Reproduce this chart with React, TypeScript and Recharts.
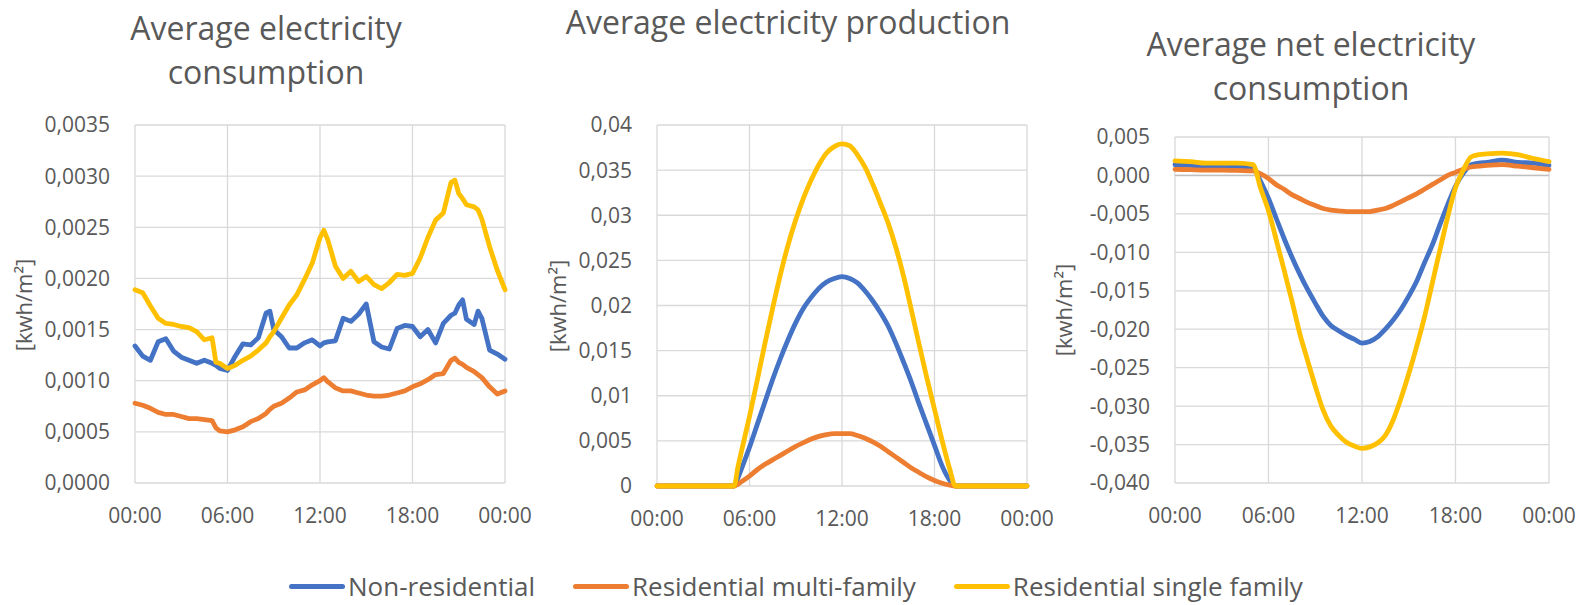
import React from "react";
import { CartesianGrid, Line, LineChart, ReferenceLine, XAxis, YAxis } from "recharts";

// hour of day for each sample (quarter hours kept only where the profile has a sharp step)
const consumptionHours = [
  0, 0.5, 1, 1.5, 2, 2.5, 3, 3.5, 4, 4.5, 5, 5.25, 5.5, 6, 6.5, 7, 7.5, 8, 8.5, 8.75,
  9, 9.5, 10, 10.5, 11, 11.5, 12, 12.25, 12.5, 13, 13.5, 14, 14.5, 15, 15.5, 16, 16.5,
  17, 17.5, 18, 18.5, 19, 19.5, 20, 20.5, 20.75, 21, 21.25, 21.5, 22, 22.25, 22.5, 23,
  23.5, 24,
];
const consumptionNonRes = [
  0.00134, 0.00124, 0.0012, 0.00138, 0.00141, 0.00129, 0.00123, 0.0012, 0.00117, 0.0012,
  0.00117, 0.00115, 0.00112, 0.0011, 0.00124, 0.00136, 0.00135, 0.00142, 0.00166, 0.00168,
  0.0015, 0.00143, 0.00132, 0.00132, 0.00137, 0.0014, 0.00134, 0.00137, 0.00138, 0.00139,
  0.00161, 0.00158, 0.00165, 0.00175, 0.00138, 0.00133, 0.00131, 0.00151, 0.00154, 0.00153,
  0.00143, 0.0015, 0.00137, 0.00156, 0.00164, 0.00166, 0.00174, 0.00179, 0.0016, 0.00155,
  0.00168, 0.00161, 0.0013, 0.00126, 0.00121,
];
const consumptionMulti = [
  0.00078, 0.00076, 0.00073, 0.00069, 0.00067, 0.00067, 0.00065, 0.00063, 0.00063, 0.00062,
  0.00061, 0.00054, 0.00051, 0.0005, 0.00052, 0.00055, 0.0006, 0.00063, 0.00068, 0.00072,
  0.00075, 0.00078, 0.00083, 0.00089, 0.00091, 0.00096, 0.001, 0.00103, 0.00099, 0.00093,
  0.0009, 0.0009, 0.00088, 0.00086, 0.00085, 0.00085, 0.00086, 0.00088, 0.0009, 0.00094,
  0.00097, 0.00101, 0.00106, 0.00107, 0.0012, 0.00122, 0.00118, 0.00116, 0.00113, 0.00109,
  0.00106, 0.00103, 0.00094, 0.00087, 0.0009,
];
const consumptionSingle = [
  0.00189, 0.00186, 0.00173, 0.00161, 0.00156, 0.00155, 0.00153, 0.00152, 0.00148, 0.0014,
  0.00142, 0.00118, 0.00117, 0.00112, 0.00115, 0.0012, 0.00124, 0.0013, 0.00137, 0.00143,
  0.00148, 0.00161, 0.00174, 0.00184, 0.00199, 0.00215, 0.0024, 0.00247, 0.00238, 0.00212,
  0.002, 0.00207, 0.00197, 0.00202, 0.00194, 0.0019, 0.00196, 0.00204, 0.00203, 0.00205,
  0.0022, 0.0024, 0.00257, 0.00264, 0.00294, 0.00296, 0.00283, 0.00278, 0.00272, 0.0027,
  0.00267, 0.00258, 0.00231, 0.00208, 0.00189,
];

const productionHours = [
  0, 1, 2, 3, 4, 5, 5.25, 5.5, 6, 6.5, 7, 7.5, 8, 8.5, 9, 9.5, 10, 10.5, 11, 11.5, 12,
  12.5, 13, 13.5, 14, 14.5, 15, 15.5, 16, 16.5, 17, 17.5, 18, 18.5, 19, 19.35, 20, 21, 22,
  23, 24,
];
const productionNonRes = [
  0, 0, 0, 0, 0, 0, 0.0009, 0.002, 0.0043, 0.0068, 0.0093, 0.0118, 0.0141, 0.0162, 0.0181,
  0.0197, 0.0209, 0.0219, 0.0226, 0.023, 0.0232, 0.023, 0.0225, 0.0216, 0.0205, 0.0192,
  0.0177, 0.0158, 0.0137, 0.0115, 0.0091, 0.0068, 0.0045, 0.0022, 0.0006, 0, 0, 0, 0, 0, 0,
];
const productionMulti = [
  0, 0, 0, 0, 0, 0, 0.0002, 0.0005, 0.0011, 0.0018, 0.0024, 0.0029, 0.0034, 0.0039, 0.0044,
  0.0048, 0.0052, 0.0055, 0.0057, 0.0058, 0.0058, 0.0058, 0.0056, 0.0053, 0.0049, 0.0044,
  0.0038, 0.0032, 0.0026, 0.002, 0.0015, 0.001, 0.0006, 0.0003, 0.0001, 0, 0, 0, 0, 0, 0,
];
const productionSingle = [
  0, 0, 0, 0, 0, 0, 0.0021, 0.004, 0.0077, 0.0117, 0.0158, 0.0197, 0.0234, 0.0267, 0.0295,
  0.0319, 0.0339, 0.0356, 0.0369, 0.0376, 0.0379, 0.0377, 0.0367, 0.0353, 0.0334, 0.0313,
  0.0291, 0.0264, 0.0232, 0.0195, 0.0157, 0.012, 0.0085, 0.005, 0.0018, 0, 0, 0, 0, 0, 0,
];

const netHours = [
  0, 1, 2, 3, 4, 5, 5.5, 6, 6.5, 7, 7.5, 8, 8.5, 9, 9.5, 10, 10.5, 11, 11.5, 12, 12.5, 13,
  13.5, 14, 14.5, 15, 15.5, 16, 16.5, 17, 17.5, 18, 18.5, 19, 19.5, 20, 21, 22, 23, 24,
];
const netNonRes = [
  0.0014, 0.0013, 0.0012, 0.0012, 0.0011, 0.001, -0.0008, -0.003, -0.0056, -0.0082, -0.0106,
  -0.0128, -0.0148, -0.0166, -0.0183, -0.0195, -0.0202, -0.0208, -0.0213, -0.0218, -0.0216,
  -0.021, -0.02, -0.0188, -0.0174, -0.0157, -0.0138, -0.0114, -0.0091, -0.0064, -0.0038,
  -0.0014, 0.0003, 0.0014, 0.0016, 0.0017, 0.002, 0.0017, 0.0016, 0.0013,
];
const netMulti = [
  0.0008, 0.00075, 0.0007, 0.0007, 0.00065, 0.0006, 0.0002, -0.0004, -0.0012, -0.0018,
  -0.0025, -0.003, -0.0035, -0.0039, -0.0043, -0.0045, -0.0046, -0.0047, -0.0047, -0.0047,
  -0.0047, -0.0045, -0.0043, -0.0039, -0.0034, -0.0029, -0.0024, -0.0018, -0.0012, -0.0006,
  0, 0.0004, 0.0008, 0.0011, 0.0012, 0.0013, 0.0014, 0.0012, 0.001, 0.0008,
];
const netSingle = [
  0.0019, 0.0018, 0.0016, 0.0016, 0.0016, 0.0014, -0.0017, -0.0046, -0.0084, -0.0123,
  -0.0163, -0.0205, -0.024, -0.0274, -0.0305, -0.0326, -0.0338, -0.0347, -0.0352, -0.0355,
  -0.0353, -0.0348, -0.0338, -0.0318, -0.029, -0.0258, -0.0223, -0.0185, -0.0141, -0.0097,
  -0.0054, -0.0016, 0.0007, 0.0024, 0.0027, 0.0028, 0.0029, 0.0027, 0.0022, 0.0018,
];

const hourTicks = [0, 6, 12, 18, 24];
const consumptionTicks = [0, 0.0005, 0.001, 0.0015, 0.002, 0.0025, 0.003, 0.0035];
const productionTicks = [0, 0.005, 0.01, 0.015, 0.02, 0.025, 0.03, 0.035, 0.04];
const netTicks = [0.005, 0, -0.005, -0.01, -0.015, -0.02, -0.025, -0.03, -0.035, -0.04];

const seriesNames = ["Non-residential", "Residential multi-family", "Residential single family"];
const seriesColors = ["#4472C4", "#ED7D31", "#FFC000"];

const FONT = "'Open Sans', sans-serif";
const TEXT = "#595959";
const GRID = "#D9D9D9";

const comma = (s: string) => s.replace(".", ",");
const hourLabel = (h: number) => `${String(h % 24).padStart(2, "0")}:00`;

type Row = { h: number; a: number; b: number; c: number };

function rows(hours: number[], a: number[], b: number[], c: number[]): Row[] {
  return hours.map((h, i) => ({ h, a: a[i], b: b[i], c: c[i] }));
}

type PanelProps = {
  data: Row[];
  left: number;
  width: number;
  margin: { top: number; right: number; bottom: number; left: number };
  yWidth: number;
  domain: [number, number];
  ticks: number[];
  fmt: (v: number) => string;
  curve: "linear" | "monotone";
  zeroLine?: boolean;
};

function Panel(p: PanelProps) {
  const tick = { fill: TEXT, fontSize: 21, fontFamily: FONT };
  return (
    <div style={{ position: "absolute", left: p.left, top: 110 }}>
      <LineChart width={p.width} height={440} data={p.data} margin={p.margin}>
        <CartesianGrid stroke={GRID} strokeWidth={1.3} />
        <XAxis
          dataKey="h"
          type="number"
          domain={[0, 24]}
          ticks={hourTicks}
          tickFormatter={hourLabel}
          tick={tick}
          tickLine={false}
          axisLine={false}
          tickSize={0}
          tickMargin={25}
          height={40}
          interval={0}
        />
        <YAxis
          domain={p.domain}
          ticks={p.ticks}
          tickFormatter={p.fmt}
          tick={tick}
          tickLine={false}
          axisLine={false}
          tickSize={0}
          tickMargin={25}
          width={p.yWidth}
          interval={0}
        />
        {p.zeroLine && <ReferenceLine y={0} stroke="#BFBFBF" strokeWidth={1.6} />}
        {(["a", "b", "c"] as const).map((k, i) => (
          <Line
            key={k}
            type={p.curve}
            dataKey={k}
            stroke={seriesColors[i]}
            strokeWidth={4.8}
            strokeLinejoin="round"
            strokeLinecap="round"
            dot={false}
            activeDot={false}
            isAnimationActive={false}
          />
        ))}
      </LineChart>
    </div>
  );
}

function Title({ lines, center, top }: { lines: string[]; center: number; top: number }) {
  return (
    <div
      style={{
        position: "absolute",
        left: center - 260,
        width: 520,
        top,
        textAlign: "center",
        fontFamily: FONT,
        fontSize: 32,
        lineHeight: "44px",
        color: TEXT,
      }}
    >
      {lines.map((l) => (
        <div key={l}>{l}</div>
      ))}
    </div>
  );
}

function UnitLabel({ x, y }: { x: number; y: number }) {
  return (
    <div
      style={{
        position: "absolute",
        left: x,
        top: y,
        transform: "translate(-50%, -50%) rotate(-90deg)",
        whiteSpace: "nowrap",
        fontFamily: FONT,
        fontSize: 22,
        color: TEXT,
      }}
    >
      [kwh/m²]
    </div>
  );
}

export default function App() {
  return (
    <div
      style={{
        position: "absolute",
        left: 0,
        top: 0,
        width: 1592,
        height: 605,
        background: "#fff",
        overflow: "hidden",
        fontFamily: FONT,
      }}
    >
      <Title lines={["Average electricity", "consumption"]} center={266} top={6} />
      <Title lines={["Average electricity production"]} center={788} top={0} />
      <Title lines={["Average net electricity", "consumption"]} center={1311} top={22} />

      <Panel
        data={rows(consumptionHours, consumptionNonRes, consumptionMulti, consumptionSingle)}
        left={0}
        width={545}
        margin={{ top: 15, right: 40, bottom: 27, left: 0 }}
        yWidth={135}
        domain={[0, 0.0035]}
        ticks={consumptionTicks}
        fmt={(v) => comma(v.toFixed(4))}
        curve="linear"
      />
      <Panel
        data={rows(productionHours, productionNonRes, productionMulti, productionSingle)}
        left={530}
        width={530}
        margin={{ top: 15, right: 33, bottom: 24, left: 0 }}
        yWidth={127}
        domain={[0, 0.04]}
        ticks={productionTicks}
        fmt={(v) => comma(String(v))}
        curve="monotone"
      />
      <Panel
        data={rows(netHours, netNonRes, netMulti, netSingle)}
        left={1060}
        width={532}
        margin={{ top: 27, right: 43, bottom: 27, left: 0 }}
        yWidth={115}
        domain={[-0.04, 0.005]}
        ticks={netTicks}
        fmt={(v) => comma(v.toFixed(3))}
        curve="monotone"
        zeroLine
      />

      <UnitLabel x={23} y={305} />
      <UnitLabel x={557} y={306} />
      <UnitLabel x={1063} y={310} />

      <div
        style={{
          position: "absolute",
          left: 289,
          top: 568,
          display: "flex",
          alignItems: "center",
          gap: 38,
          fontSize: 26,
          lineHeight: "36px",
          color: TEXT,
          whiteSpace: "nowrap",
        }}
      >
        {seriesNames.map((name, i) => (
          <div key={name} style={{ display: "flex", alignItems: "center" }}>
            <span
              style={{
                display: "inline-block",
                width: 56,
                height: 5,
                borderRadius: 3,
                background: seriesColors[i],
                marginRight: 3,
              }}
            />
            {name}
          </div>
        ))}
      </div>
    </div>
  );
}
